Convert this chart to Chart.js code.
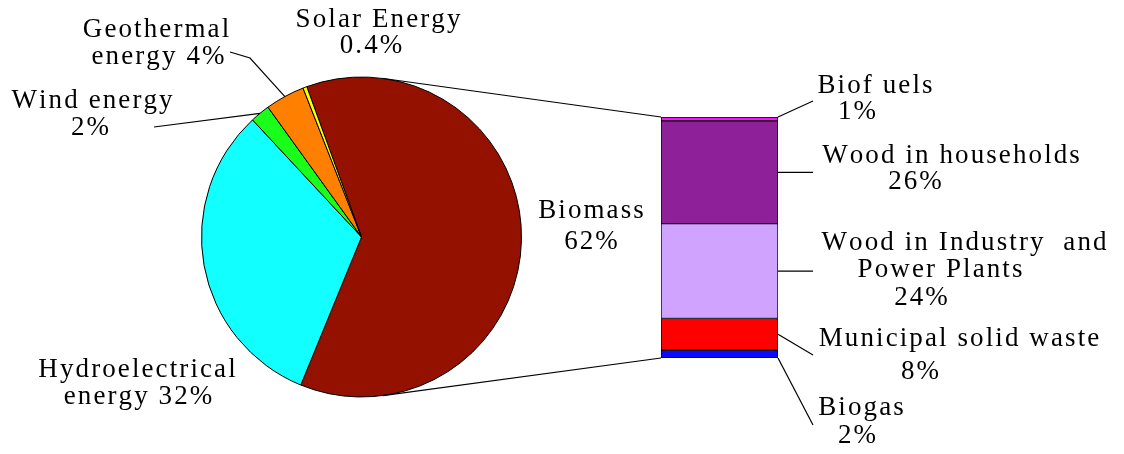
<!DOCTYPE html>
<html lang="en">
<head>
<meta charset="UTF-8">
<title>Renewable energy sources</title>
<script src="https://cdn.jsdelivr.net/npm/chart.js"></script>
<style>
  html, body { margin: 0; padding: 0; background: #fff; }
  #wrap { position: relative; width: 1124px; height: 454px; }
  #wrap canvas { position: absolute; left: 0; top: 0; }
</style>
</head>
<body>
<div id="wrap">
  <canvas id="pie" width="1124" height="454"></canvas>
  <canvas id="bar" width="1124" height="454"></canvas>
</div>
<script>
// Share of renewable energy sources (%)
const sources = ['Biomass', 'Hydroelectrical energy', 'Wind energy', 'Geothermal energy', 'Solar Energy'];
const sourceShares = [62, 32, 2, 4, 0.4];
const sourceColors = ['#941100', '#12ffff', '#1aff1a', '#ff8000', '#ffff00'];

// Breakdown of biomass, stacked from the bottom up (%)
const biomassParts = ['Biogas', 'Municipal solid waste', 'Wood in Industry and Power Plants', 'Wood in households', 'Biofuels'];
const biomassShares = [2, 8, 24, 26, 1];
const biomassColors = ['#0a0aff', '#ff0000', '#cfa3ff', '#8e2199', '#ff10ff'];

const pct = v => v + '%';
const FONT = '27px "Liberation Serif", serif';
const TRACKING = 2.1;

const pieChart = new Chart(document.getElementById('pie'), {
  type: 'pie',
  data: {
    labels: sources,
    datasets: [{
      data: sourceShares,
      backgroundColor: sourceColors,
      borderColor: '#000',
      borderWidth: 1
    }]
  },
  options: {
    responsive: false,
    animation: false,
    rotation: -20,
    layout: { padding: { left: 201, right: 602, top: 76.5, bottom: 56.5 } },
    plugins: { legend: { display: false }, tooltip: { enabled: false } }
  }
});

// text lines: [text, centre x, centre y]
const labelLines = [
  ['Solar Energy', 378, 20], [pct(sourceShares[4]), 371, 46],
  ['Geothermal', 156, 30], ['energy ' + pct(sourceShares[3]), 158, 57],
  ['Wind energy', 92, 101], [pct(sourceShares[2]), 90, 128],
  ['Hydroelectrical', 137, 370], ['energy ' + pct(sourceShares[1]), 138, 397],
  [sources[0], 591, 211], [pct(sourceShares[0]), 591, 242],
  ['Biof uels', 875, 86], [pct(biomassShares[4]), 857, 112],
  ['Wood in households', 951, 156], [pct(biomassShares[3]), 915, 182],
  ['Wood in Industry  and', 964, 243], ['Power Plants', 940, 270], [pct(biomassShares[2]), 921, 298],
  ['Municipal solid waste', 959, 339], [pct(biomassShares[1]), 920, 372],
  [biomassParts[0], 861, 408], [pct(biomassShares[0]), 857, 436]
];

function tangentPoint(cx, cy, r, px, py, side) {
  const dx = px - cx, dy = py - cy;
  const d = Math.hypot(dx, dy);
  const a = Math.atan2(dy, dx) + side * Math.acos(r / d);
  return [cx + r * Math.cos(a), cy + r * Math.sin(a)];
}

function line(ctx, pts) {
  ctx.beginPath();
  ctx.moveTo(pts[0][0], pts[0][1]);
  for (let i = 1; i < pts.length; i++) ctx.lineTo(pts[i][0], pts[i][1]);
  ctx.stroke();
}

// centred text with extra space between letters
function spacedText(ctx, text, cx, cy) {
  const chars = [...text];
  const widths = chars.map(c => ctx.measureText(c).width);
  const total = widths.reduce((a, b) => a + b, 0) + TRACKING * (chars.length - 1);
  let x = cx - total / 2;
  chars.forEach((c, i) => {
    ctx.fillText(c, x, cy);
    x += widths[i] + TRACKING;
  });
}

const annotations = {
  id: 'annotations',
  afterDraw(chart) {
    const ctx = chart.ctx;
    const arcs = pieChart.getDatasetMeta(0).data;
    const cx = arcs[0].x, cy = arcs[0].y, r = arcs[0].outerRadius;
    const segs = biomassParts.map((_, i) => chart.getDatasetMeta(i).data[0]);
    const left = segs[0].x - segs[0].width / 2;
    const right = segs[0].x + segs[0].width / 2;
    const top = segs[4].y, bottom = segs[0].base;
    const mid = s => (s.y + s.base) / 2;
    const rim = i => {
      const a = (arcs[i].startAngle + arcs[i].endAngle) / 2;
      return [cx + r * Math.cos(a), cy + r * Math.sin(a)];
    };

    ctx.save();
    ctx.strokeStyle = '#000';
    ctx.lineWidth = 1.2;
    // pie to bar connectors
    line(ctx, [tangentPoint(cx, cy, r, left, top, -1), [left, top]]);
    line(ctx, [tangentPoint(cx, cy, r, left, bottom, 1), [left, bottom]]);
    // leader lines
    line(ctx, [[230, 52], [250, 58], rim(3)]);
    line(ctx, [[154, 127], rim(2)]);
    line(ctx, [[right, top], [813, 101]]);
    line(ctx, [[right, mid(segs[3])], [813, mid(segs[3])]]);
    line(ctx, [[right, mid(segs[2])], [813, mid(segs[2])]]);
    line(ctx, [[right, mid(segs[1])], [813, 355]]);
    line(ctx, [[right, bottom], [813, 425]]);

    ctx.font = FONT;
    ctx.fillStyle = '#000';
    ctx.textAlign = 'left';
    ctx.textBaseline = 'middle';
    labelLines.forEach(([t, x, y]) => spacedText(ctx, t, x, y));
    ctx.restore();
  }
};

new Chart(document.getElementById('bar'), {
  type: 'bar',
  data: {
    labels: ['Biomass'],
    datasets: biomassParts.map((name, i) => ({
      label: name,
      data: [biomassShares[i]],
      backgroundColor: biomassColors[i],
      borderColor: '#000',
      borderWidth: 1,
      borderSkipped: false,
      categoryPercentage: 1,
      barPercentage: 1
    }))
  },
  options: {
    responsive: false,
    animation: false,
    layout: { padding: { left: 661, right: 346, top: 117, bottom: 96 } },
    scales: {
      x: { stacked: true, display: false },
      y: { stacked: true, display: false, min: 0, max: 61 }
    },
    plugins: { legend: { display: false }, tooltip: { enabled: false } }
  },
  plugins: [annotations]
});
</script>
</body>
</html>
